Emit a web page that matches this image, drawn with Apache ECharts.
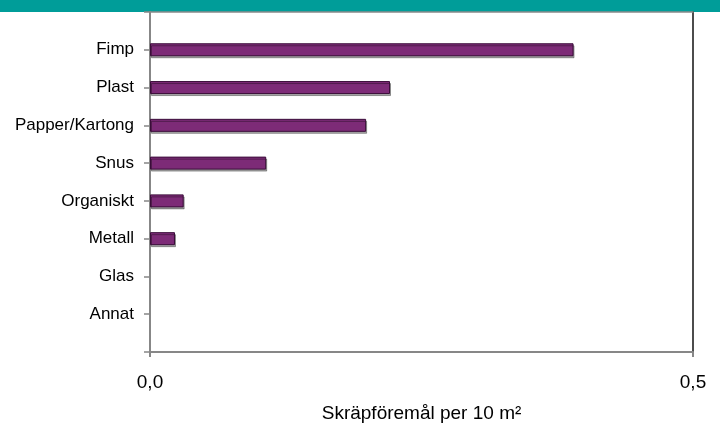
<!DOCTYPE html>
<html>
<head>
<meta charset="utf-8">
<script src="https://cdn.jsdelivr.net/npm/echarts@6/dist/echarts.min.js"></script>
<style>
  html, body { margin: 0; padding: 0; background: #fff; }
  #chart { width: 720px; height: 423px; }
</style>
</head>
<body>
<div id="chart"></div>
<script>
// categories top to bottom, values in items per 10 m2
var categories = ['Fimp', 'Plast', 'Papper/Kartong', 'Snus', 'Organiskt', 'Metall', 'Glas', 'Annat'];
var values = [0.390, 0.221, 0.199, 0.107, 0.031, 0.023, 0, 0];
var xTicks = [0, 0.5];
var axisTitle = 'Skräpföremål per 10 m²';

// empty slot above and below so the labels sit on the ticks like the original
var yData = [''].concat(categories, ['']);
var barData = ['-'].concat(values.map(function (v) { return v === 0 ? '-' : v; }), ['-']);

var chart = echarts.init(document.getElementById('chart'));

var option = {
    animation: false,
    textStyle: { fontFamily: 'Liberation Sans' },
    graphic: [{
        type: 'rect',
        left: 0, top: 0,
        z: -1,
        shape: { width: 720, height: 12 },
        style: { fill: '#009D99' }
    }],
    grid: { left: 150, right: 27, top: 12, bottom: 71, containLabel: false, outerBoundsMode: 'none' },
    xAxis: [{
        type: 'value',
        min: xTicks[0],
        max: xTicks[xTicks.length - 1],
        interval: 0.5,
        name: axisTitle,
        nameLocation: 'middle',
        nameGap: 52,
        nameTextStyle: { fontSize: 19, color: '#000' },
        axisLine: { show: true, onZero: false, lineStyle: { color: '#878787', width: 2 } },
        axisTick: { show: true, length: 5, lineStyle: { color: '#878787', width: 2 } },
        axisLabel: {
            fontSize: 19, color: '#000', margin: 21,
            formatter: function (v) { return v.toFixed(1).replace('.', ','); }
        },
        splitLine: { show: false }
    }, {
        type: 'value',
        position: 'top',
        min: 0, max: 0.5,
        axisLine: { show: true, onZero: false, lineStyle: { color: '#8a8a8a', width: 1.5 } },
        axisTick: { show: false },
        axisLabel: { show: false },
        splitLine: { show: false }
    }],
    yAxis: [{
        type: 'category',
        data: yData,
        inverse: true,
        boundaryGap: false,
        axisLine: { show: true, onZero: false, lineStyle: { color: '#878787', width: 2 } },
        axisTick: { show: true, length: 6, lineStyle: { color: '#878787', width: 1.5 } },
        axisLabel: { fontSize: 17, color: '#000', margin: 16 },
        splitLine: { show: false }
    }, {
        type: 'category',
        data: yData,
        inverse: true,
        position: 'right',
        boundaryGap: false,
        axisLine: { show: true, onZero: false, lineStyle: { color: '#111', width: 1.5 } },
        axisTick: { show: false },
        axisLabel: { show: false },
        splitLine: { show: false }
    }],
    series: [{
        name: 'Skräp',
        type: 'bar',
        xAxisIndex: 0,
        yAxisIndex: 0,
        barWidth: 13,
        data: barData,
        itemStyle: {
            color: '#7D2B77',
            borderColor: '#3A0C39',
            borderWidth: 1,
            shadowColor: 'rgba(0,0,0,0.35)',
            shadowOffsetX: 1,
            shadowOffsetY: 2
        }
    }]
};
chart.setOption(option);
</script>
</body>
</html>
